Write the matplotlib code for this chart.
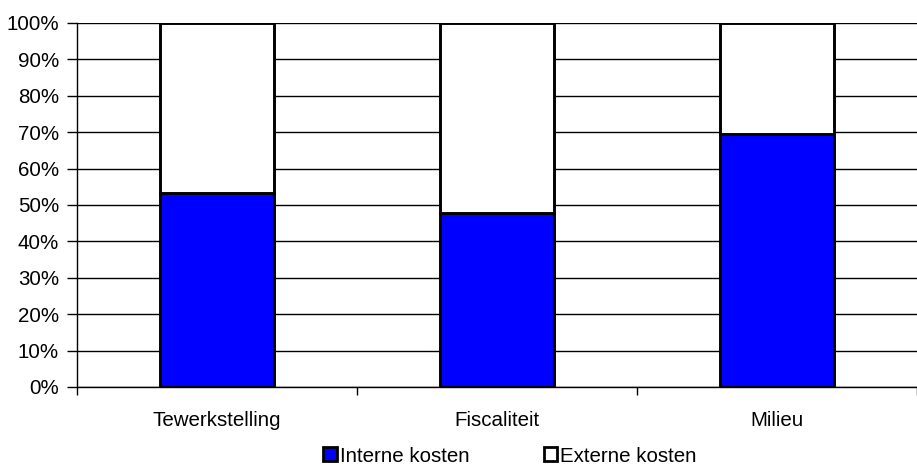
import matplotlib
matplotlib.use("Agg")
import matplotlib.pyplot as plt
import numpy as np

plt.rcParams['font.family'] = ['Liberation Sans', 'DejaVu Sans']

categories = ["Tewerkstelling", "Fiscaliteit", "Milieu"]
interne = [53.3, 47.8, 69.5]
externe = [100 - v for v in interne]
yticks = [0, 10, 20, 30, 40, 50, 60, 70, 80, 90, 100]

fig = plt.figure(figsize=(9.17, 4.66), dpi=100)
ax = fig.add_axes([77/917, 1 - 387/466, 840/917, 364/466])

x = np.arange(len(categories))
w = 0.405
b1 = ax.bar(x, interne, width=w, color='#0000FF', edgecolor='black', linewidth=2.1,
            label='Interne kosten', zorder=3)
b2 = ax.bar(x, externe, bottom=interne, width=w, color='white', edgecolor='black',
            linewidth=2.1, label='Externe kosten', zorder=3)

ax.set_xlim(-0.5, len(categories) - 0.5)
ax.set_ylim(0, 100)
ax.set_yticks(yticks)
ax.set_yticklabels([f"{t}%" for t in yticks], fontsize=14.8)
ax.yaxis.grid(True, color='black', linewidth=1, zorder=0)
ax.set_axisbelow(True)

ax.set_xticks(x)
ax.set_xticklabels(categories, fontsize=14.8)
ax.tick_params(axis='x', length=0, pad=17)
ax.set_xticks(np.arange(-0.5, len(categories) + 0.5, 1), minor=True)
ax.tick_params(axis='x', which='minor', length=6, width=1, direction='out', color='black')
ax.tick_params(axis='y', length=7, width=1, direction='out', pad=6)

for s in ['top', 'right']:
    ax.spines[s].set_visible(False)
ax.spines['left'].set_linewidth(1)
ax.spines['bottom'].set_linewidth(1)

leg = fig.legend(handles=[b1, b2], loc='center', bbox_to_anchor=(510/917, 1 - 456/466),
                 ncol=2, frameon=False, fontsize=14.8, handlelength=0.65, handleheight=0.65,
                 handletextpad=0.15, columnspacing=3.6)
for h in leg.legend_handles:
    h.set_linewidth(2)

fig.savefig("out.png", dpi=100)
